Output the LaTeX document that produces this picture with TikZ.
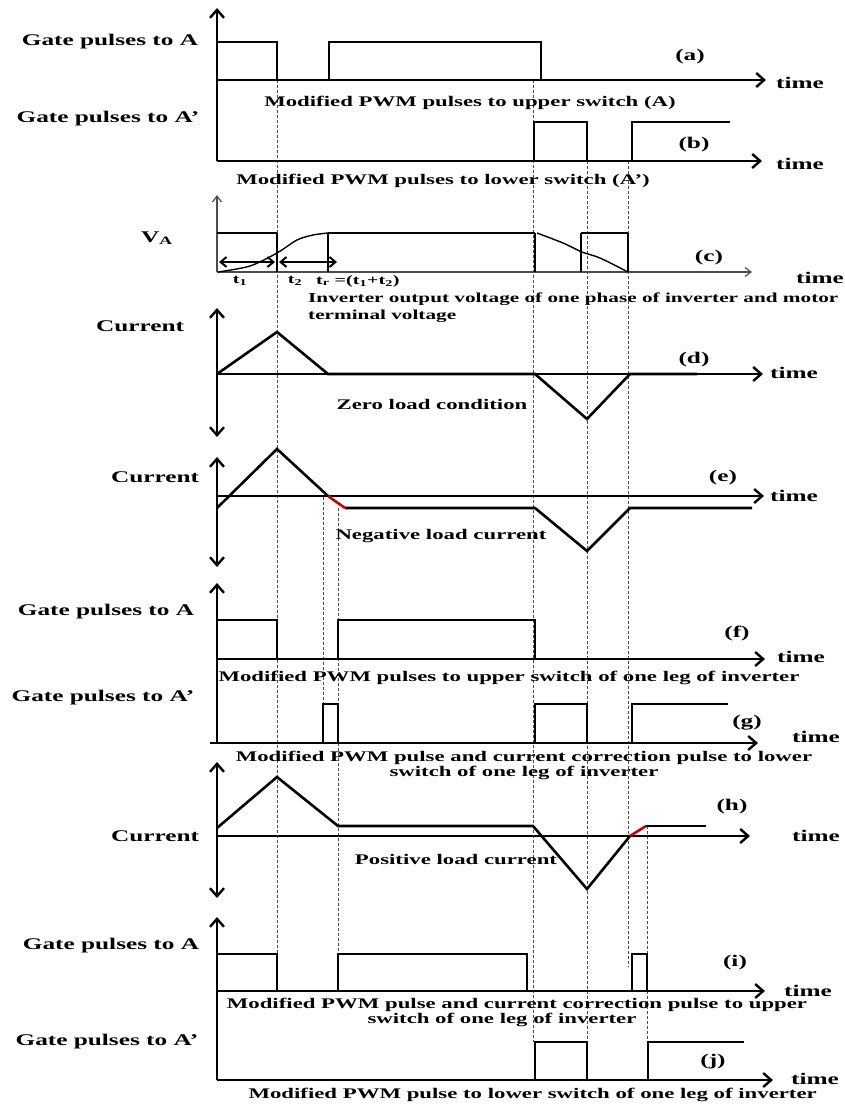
\documentclass[tikz,border=0pt]{standalone}
\usepackage{fontspec}
\setmainfont{Liberation Serif}[FakeStretch=1.55]
\usetikzlibrary{arrows.meta}
\begin{document}
\begin{tikzpicture}[x=1pt,y=-1pt,
  wave/.style={line width=2.6pt, line join=miter},
  ax/.style={line width=2.4pt, -{Straight Barb[length=8pt,width=14pt]}},
  dax/.style={line width=2.4pt, {Straight Barb[length=8pt,width=14pt]}-{Straight Barb[length=8pt,width=14pt]}},
  thinax/.style={line width=1.2pt, gray!60!black, -{Straight Barb[length=6pt,width=9pt]}},
  thinw/.style={line width=1.4pt},
  edgew/.style={line width=2.2pt},
  tarr/.style={line width=2pt, {Straight Barb[length=6pt,width=10pt]}-{Straight Barb[length=6pt,width=10pt]}},
  guide/.style={line width=0.7pt, gray!60!black, dash pattern=on 3pt off 2pt},
  biglabel/.style={font=\fontsize{16.3}{18}\selectfont\bfseries, inner sep=0pt},
  sublabel/.style={font=\fontsize{14.7}{16}\selectfont\bfseries, inner sep=0pt},
  narrowlabel/.style={font=\fontsize{13.7}{16}\selectfont\bfseries, inner sep=0pt},
  smalllabel/.style={font=\fontsize{13}{15}\selectfont\bfseries, inner sep=0pt}]
\useasboundingbox (0,0) rectangle (844,1106);

% guide lines
\draw[guide] (277,80) -- (277,954);
\draw[guide] (323,497) -- (323,703);
\draw[guide] (338,508) -- (338,954);
\draw[guide] (533,80) -- (533,1042);
\draw[guide] (587,161) -- (587,1042);
\draw[guide] (628,161) -- (628,967);
\draw[guide] (647,826) -- (647,1042);

% (a) and (b)
\draw[ax] (217,161) -- (217,8);
\draw[ax] (217,80) -- (766,80);
\draw[wave] (217,42) -- (277,42) -- (277,80) -- (329,80) -- (329,42) -- (541,42) -- (541,80) -- (669,80);
\draw[ax] (217,161) -- (762,161);
\draw[wave] (217,161) -- (534,161) -- (534,122) -- (587,122) -- (587,161) -- (632,161) -- (632,122) -- (730,122);

% (c)
\draw[thinax] (217,272) -- (217,195);
\draw[thinax] (217,272) -- (752,272);
\draw[thinw] (217,233) -- (277,233);
\draw[edgew] (277,233) -- (277,272);
\draw[edgew] (328,272) -- (328,233);
\draw[thinw] (328,233) -- (535,233);
\draw[edgew] (535,233) -- (535,272);
\draw[edgew] (581,272) -- (581,233);
\draw[thinw] (581,233) -- (628,233);
\draw[edgew] (628,233) -- (628,272);
\draw[thinw] plot[smooth] coordinates {(218,272) (250,266) (277,253) (297,240) (313,235) (328,233)};
\draw[thinw] plot[smooth] coordinates {(537,233) (563,243) (582,252) (600,258) (628,272)};
\draw[tarr] (219,262) -- (275,262);
\draw[tarr] (279,262) -- (337,262);

% (d)
\draw[dax] (217,437) -- (217,308);
\draw[ax] (217,374) -- (763,374);
\draw[wave] (217,374) -- (277,332) -- (328,374) -- (535,374) -- (587,419) -- (630,374) -- (697,374);

% (e)
\draw[dax] (217,567) -- (217,457);
\draw[ax] (217,496) -- (764,496);
\draw[wave] (217,508) -- (277,449) -- (328,496);
\draw[wave, red!80!black] (328,496) -- (345,508);
\draw[wave] (345,508) -- (535,508) -- (587,551) -- (630,508) -- (752,508);

% (f) and (g)
\draw[ax] (217,743) -- (217,583);
\draw[ax] (217,659) -- (765,659);
\draw[wave] (217,620) -- (277,620) -- (277,659) -- (338,659) -- (338,620) -- (535,620) -- (535,659);
\draw[ax] (210,743) -- (758,743);
\draw[wave] (217,743) -- (323,743) -- (323,704) -- (338,704) -- (338,743) -- (535,743) -- (535,704) -- (587,704) -- (587,743) -- (632,743) -- (632,704) -- (728,704);

% (h)
\draw[dax] (217,898) -- (217,762);
\draw[ax] (217,836) -- (750,836);
\draw[wave] (217,828) -- (277,777) -- (338,826) -- (533,826) -- (587,889) -- (630,836);
\draw[wave, red!80!black] (630,836) -- (646,826);
\draw[wave] (646,826) -- (706,826);

% (i) and (j)
\draw[ax] (217,1080) -- (217,917);
\draw[ax] (217,991) -- (765,991);
\draw[wave] (217,954) -- (277,954) -- (277,991) -- (338,991) -- (338,954) -- (527,954) -- (527,991) -- (632,991) -- (632,954) -- (647,954) -- (647,991) -- (745,991);
\draw[ax] (217,1080) -- (773,1080);
\draw[wave] (217,1080) -- (535,1080) -- (535,1042) -- (587,1042) -- (587,1080) -- (648,1080) -- (648,1042) -- (744,1042);

% texts
\node[biglabel] (gA1) at (110,42) {Gate pulses to A};
\node[biglabel] (la) at (690,57) {(a)};
\node[biglabel] (tm1) at (800,83) {time};
\node[sublabel] (sa) at (470,103) {Modified PWM pulses to upper switch (A)};
\node[biglabel] (gA2) at (108,119) {Gate pulses to A’};
\node[biglabel] (lb) at (694,145) {(b)};
\node[biglabel] (tm2) at (800,164) {time};
\node[sublabel] (sb) at (443,181) {Modified PWM pulses to lower switch (A’)};

\node[biglabel] (va) at (157,238) {V\textsubscript{A}};
\node[biglabel] (lc) at (709,258) {(c)};
\node[biglabel] (tm3) at (820,278) {time};
\node[smalllabel] (t1) at (240,281) {t\textsubscript{1}};
\node[smalllabel] (t2) at (295,281) {t\textsubscript{2}};
\node[smalllabel, anchor=west] (tr) at (316,281) {t\textsubscript{r} =(t\textsubscript{1}+t\textsubscript{2})};
\node[narrowlabel, anchor=west] (sc1) at (308,299) {Inverter output voltage of one phase of inverter and motor};
\node[narrowlabel, anchor=west] (sc2) at (308,316) {terminal voltage};

\node[biglabel] (cd) at (140,326) {Current};
\node[biglabel] (ld) at (694,360) {(d)};
\node[biglabel] (tm4) at (794,373) {time};
\node[sublabel] (sd) at (432,404) {Zero load condition};

\node[biglabel] (ce) at (155,477) {Current};
\node[biglabel] (le) at (723,478) {(e)};
\node[biglabel] (tm5) at (794,496) {time};
\node[sublabel] (se) at (441,536) {Negative load current};

\node[biglabel] (gA3) at (106,612) {Gate pulses to A};
\node[biglabel] (lf) at (737,633) {(f)};
\node[biglabel] (tm6) at (801,657) {time};
\node[sublabel] (sf) at (509,678) {Modified PWM pulses to upper switch of one leg of inverter};
\node[biglabel] (gA4) at (103,698) {Gate pulses to A’};
\node[biglabel] (lg) at (747,723) {(g)};
\node[biglabel] (tm7) at (816,737) {time};
\node[sublabel] (sg1) at (524,758) {Modified PWM pulse and current correction pulse to lower};
\node[sublabel] (sg2) at (524,773) {switch of one leg of inverter};

\node[biglabel] (lh) at (732,807) {(h)};
\node[biglabel] (ch) at (155,836) {Current};
\node[biglabel] (tm8) at (816,836) {time};
\node[sublabel] (sh) at (456,859) {Positive load current};

\node[biglabel] (gA5) at (111,946) {Gate pulses to A};
\node[biglabel] (li) at (735,963) {(i)};
\node[biglabel] (tm9) at (808,991) {time};
\node[sublabel] (si1) at (517,1005) {Modified PWM pulse and current correction pulse to upper};
\node[sublabel] (si2) at (502,1020) {switch of one leg of inverter};
\node[biglabel] (gA6) at (107,1042) {Gate pulses to A’};
\node[biglabel] (lj) at (713,1062) {(j)};
\node[biglabel] (tm10) at (815,1079) {time};
\node[sublabel, anchor=east] (sj) at (817,1095) {Modified PWM pulse to lower switch of one leg of inverter};
\end{tikzpicture}
\end{document}
